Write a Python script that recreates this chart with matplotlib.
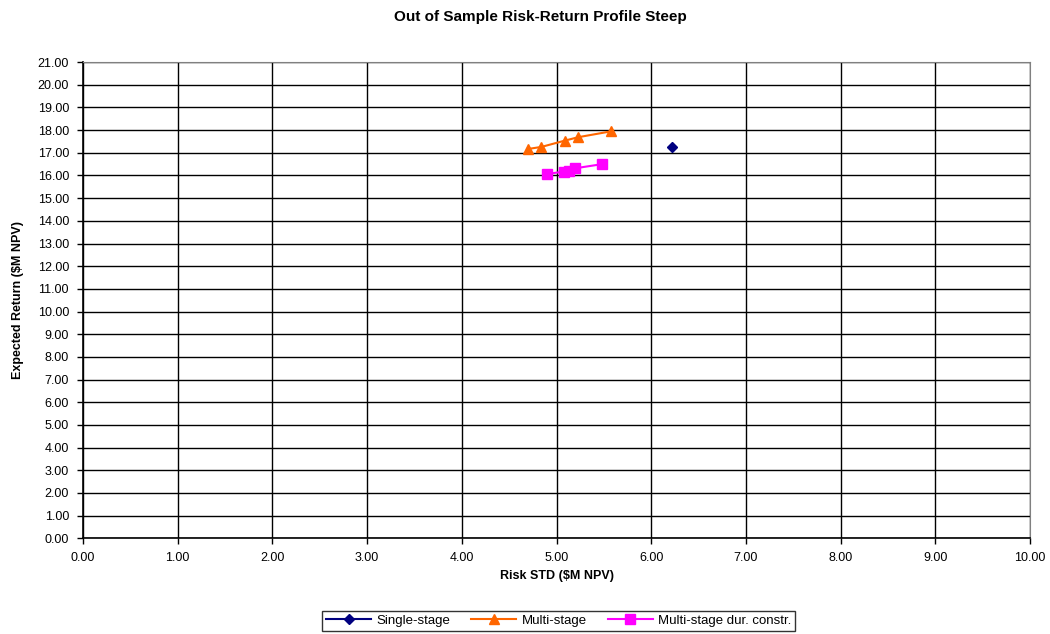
import matplotlib
matplotlib.use("Agg")
import matplotlib.pyplot as plt
import numpy as np

# risk (std) / expected return pairs, $M NPV
single_risk = [6.22]
single_ret = [17.26]

multi_risk = [4.70, 4.84, 5.09, 5.23, 5.58]
multi_ret = [17.17, 17.26, 17.54, 17.69, 17.95]

dur_risk = [4.90, 5.08, 5.13, 5.20, 5.48]
dur_ret = [16.07, 16.17, 16.22, 16.32, 16.50]

plt.rcParams['font.family'] = ['Liberation Sans', 'DejaVu Sans']

fig = plt.figure(figsize=(10.5, 6.34), dpi=100)
ax = fig.add_axes([0.079, 0.151, 0.902, 0.751])

ax.plot(single_risk, single_ret, color='#000080', marker='D', markersize=5,
        linewidth=1.5, label='Single-stage')
ax.plot(multi_risk, multi_ret, color='#FF6600', marker='^', markersize=7,
        linewidth=1.5, label='Multi-stage')
ax.plot(dur_risk, dur_ret, color='#FF00FF', marker='s', markersize=7,
        linewidth=1.5, label='Multi-stage dur. constr.')

ax.set_xlim(0, 10)
ax.set_ylim(0, 21)
ax.set_xticks(np.arange(0, 11, 1))
ax.set_yticks(np.arange(0, 22, 1))
ax.set_xticklabels(['%.2f' % v for v in np.arange(0, 11, 1)], fontsize=9)
ax.set_yticklabels(['%.2f' % v for v in np.arange(0, 22, 1)], fontsize=9)
ax.grid(True, color='black', linewidth=1.0)
ax.set_axisbelow(True)
ax.tick_params(direction='out', length=4, width=1, pad=6)

for side in ['top', 'right']:
    ax.spines[side].set_color('#808080')
for side in ['left', 'bottom']:
    ax.spines[side].set_color('black')
    ax.spines[side].set_linewidth(1.2)

ax.set_xlabel('Risk STD (\\$M NPV)', fontsize=9, fontweight='bold', labelpad=4)
ax.set_ylabel('Expected Return (\\$M NPV)', fontsize=9, fontweight='bold', labelpad=10)

fig.suptitle('Out of Sample Risk-Return Profile Steep', x=0.515, y=0.985,
             fontsize=11, fontweight='bold', fontstretch='condensed')

leg = fig.legend(loc='center', bbox_to_anchor=(0.532, 0.021), ncol=3,
                 fontsize=9.5, frameon=True, fancybox=False, handlelength=3.4,
                 columnspacing=1.6, handletextpad=0.4, borderpad=0.3)
leg.get_frame().set_edgecolor('black')
leg.get_frame().set_linewidth(1.0)

fig.savefig('out.png', dpi=100)
